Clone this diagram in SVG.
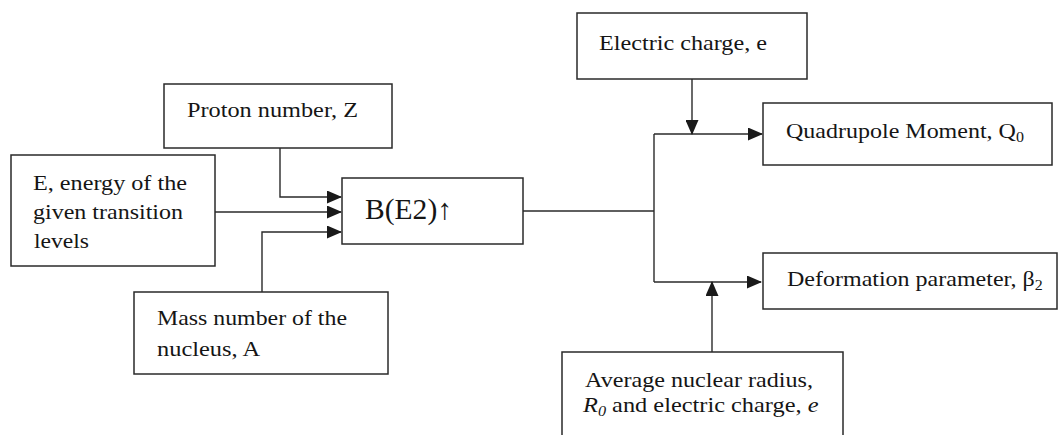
<svg xmlns="http://www.w3.org/2000/svg" width="1058" height="435" viewBox="0 0 1058 435">
<style>
.box{fill:#fff;stroke:#2a2a2a;stroke-width:1.5}
.t{font-family:"Liberation Serif","Times New Roman",serif;font-size:21px;fill:#151515}
.big{font-size:29px}
.c{fill:none;stroke:#2a2a2a;stroke-width:1.4}
</style>
<defs>
<marker id="ah" markerUnits="userSpaceOnUse" markerWidth="15" markerHeight="13" refX="14" refY="6.5" orient="auto">
<path d="M0,0 L15,6.5 L0,13 Z" fill="#1a1a1a"/>
</marker>
</defs>
<rect width="1058" height="435" fill="#fff"/>
<g id="connectors">
<path class="c" d="M280,148 V197 H341" marker-end="url(#ah)"/>
<path class="c" d="M215,212 H341" marker-end="url(#ah)"/>
<path class="c" d="M262,292 V232 H341" marker-end="url(#ah)"/>
<path class="c" d="M523,211 H654"/>
<path class="c" d="M654,282 V134"/>
<path class="c" d="M654,134 H762" marker-end="url(#ah)"/>
<path class="c" d="M654,282 H761" marker-end="url(#ah)"/>
<path class="c" d="M692,79 V134" marker-end="url(#ah)"/>
<path class="c" d="M712,352 V282" marker-end="url(#ah)"/>
</g>
<g id="proton">
<rect class="box" x="164" y="84" width="228" height="64"/>
<text class="t" x="187" y="117" textLength="171" lengthAdjust="spacingAndGlyphs">Proton number, Z</text>
</g>
<g id="energy">
<rect class="box" x="11" y="155" width="204" height="111"/>
<text class="t" x="33" y="190" textLength="154" lengthAdjust="spacingAndGlyphs">E, energy of the</text>
<text class="t" x="33" y="219" textLength="150" lengthAdjust="spacingAndGlyphs">given transition</text>
<text class="t" x="34" y="248" textLength="55" lengthAdjust="spacingAndGlyphs">levels</text>
</g>
<g id="mass">
<rect class="box" x="134" y="292" width="254" height="82"/>
<text class="t" x="157" y="325" textLength="190" lengthAdjust="spacingAndGlyphs">Mass number of the</text>
<text class="t" x="157" y="356" textLength="103" lengthAdjust="spacingAndGlyphs">nucleus, A</text>
</g>
<g id="be2">
<rect class="box" x="342" y="178" width="181" height="66"/>
<text class="t big" x="365" y="219" textLength="87" lengthAdjust="spacingAndGlyphs">B(E2)↑</text>
</g>
<g id="charge">
<rect class="box" x="577" y="13" width="230" height="66"/>
<text class="t" x="599" y="50" textLength="168" lengthAdjust="spacingAndGlyphs">Electric charge, e</text>
</g>
<g id="quadrupole">
<rect class="box" x="763" y="103" width="289" height="62"/>
<text class="t" transform="translate(786,138) scale(1.143,1)">Quadrupole Moment, Q<tspan font-size="14" dy="4">0</tspan></text>
</g>
<g id="deformation">
<rect class="box" x="763" y="253" width="294" height="56"/>
<text class="t" transform="translate(787,286) scale(1.143,1)">Deformation parameter, β<tspan font-size="14" dy="4">2</tspan></text>
</g>
<g id="radius">
<rect class="box" x="562" y="352" width="281" height="90"/>
<text class="t" x="585" y="387" textLength="228" lengthAdjust="spacingAndGlyphs">Average nuclear radius,</text>
<text class="t" transform="translate(583,412) scale(1.16,1)"><tspan font-style="italic">R</tspan><tspan font-style="italic" font-size="14" dy="4">0</tspan><tspan dy="-4"> and electric charge, </tspan><tspan font-style="italic">e</tspan></text>
</g>
</svg>
